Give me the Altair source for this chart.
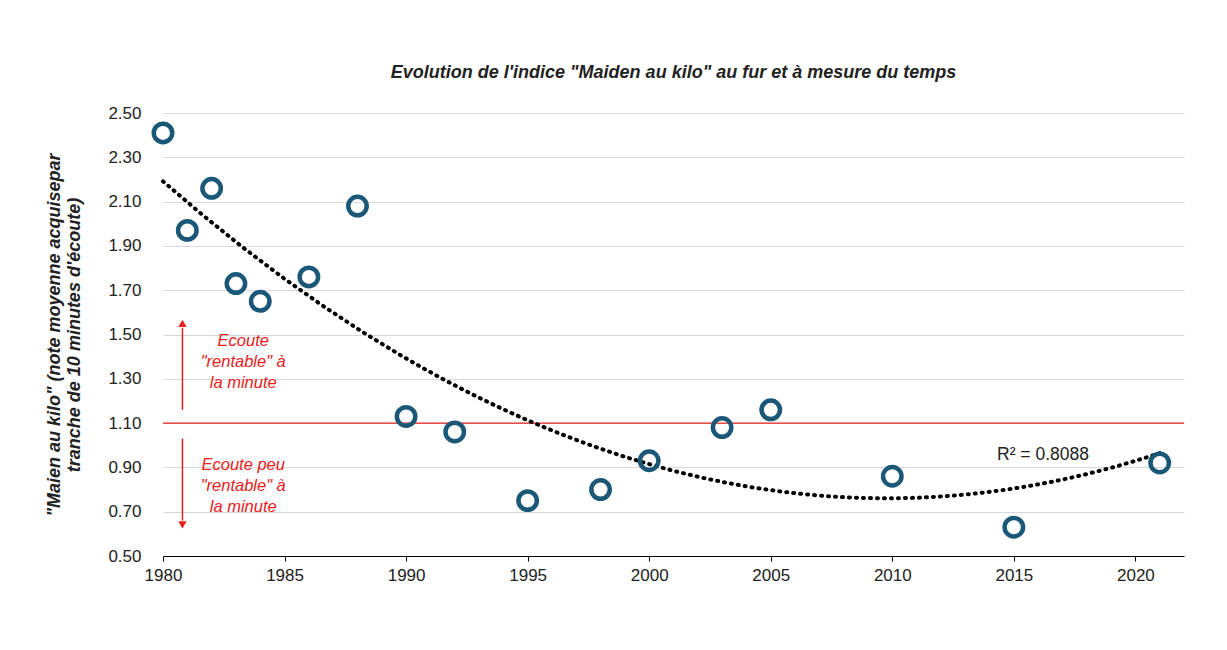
import altair as alt
import pandas as pd

years = [1980, 1981, 1982, 1983, 1984, 1986, 1988, 1990, 1992, 1995, 1998,
         2000, 2003, 2005, 2010, 2015, 2021]
indice = [2.41, 1.97, 2.16, 1.73, 1.65, 1.76, 2.08, 1.13, 1.06, 0.75, 0.80,
          0.93, 1.08, 1.16, 0.86, 0.63, 0.92]
seuil = 1.10

df = pd.DataFrame({"annee": years, "indice": indice})

FONT = "Liberation Sans"
RED = "#e8201c"

x = alt.X("annee:Q", scale=alt.Scale(domain=[1980, 2022], nice=False, zero=False),
          axis=alt.Axis(values=[1980, 1985, 1990, 1995, 2000, 2005, 2010, 2015, 2020],
                        format="d", grid=False, title=None, domainColor="black",
                        labelFlush=False, labelPadding=6,
                        tickColor="black", tickSize=5, labelFontSize=17, labelColor="#222"))
y = alt.Y("indice:Q", scale=alt.Scale(domain=[0.5, 2.5], nice=False, zero=False),
          axis=alt.Axis(values=[0.5, 0.7, 0.9, 1.1, 1.3, 1.5, 1.7, 1.9, 2.1, 2.3, 2.5],
                        format=".2f", gridColor="#d9d9d9", domain=False, ticks=False,
                        labelFontSize=17, labelPadding=22, labelColor="#222",
                        title=['"Maien au kilo" (note moyenne acquisepar',
                               "tranche de 10 minutes d'écoute)"],
                        titleFontSize=18, titleFontStyle="italic", titleFontWeight="bold",
                        titlePadding=24, titleColor="#222"))

base = alt.Chart(df)

points = base.mark_point(shape="circle", filled=False, size=340, strokeWidth=4.5,
                         opacity=1, color="#1b5878").encode(x=x, y=y)

trend = base.transform_regression("annee", "indice", method="poly", order=2,
                                  extent=[1980, 2021]).mark_line(
    color="black", strokeWidth=4, strokeDash=[1, 6], strokeCap="round"
).encode(x="annee:Q", y="indice:Q")

rule = alt.Chart(pd.DataFrame({"v": [seuil]})).mark_rule(color=RED, strokeWidth=1.2).encode(y="v:Q")

arrows = pd.DataFrame({"a": [1980.8, 1980.8], "y1": [1.16, 1.03], "y2": [1.53, 0.66]})
arrow_lines = alt.Chart(arrows).mark_rule(color=RED, strokeWidth=1.5).encode(
    x="a:Q", y="y1:Q", y2="y2:Q")
heads = pd.DataFrame({"a": [1980.8, 1980.8], "y": [1.55, 0.64],
                      "s": ["triangle-up", "triangle-down"]})
arrow_heads = alt.Chart(heads).mark_point(filled=True, color=RED, size=70, opacity=1).encode(
    x="a:Q", y="y:Q",
    shape=alt.Shape("s:N", scale=None, legend=None))

notes = pd.DataFrame({"a": [1983.3, 1983.3], "y": [1.47, 0.91],
                      "t": ['Ecoute\n"rentable" à\nla minute', 'Ecoute peu\n"rentable" à\nla minute']})
note_text = alt.Chart(notes).mark_text(color=RED, font=FONT, fontSize=16.5, fontStyle="italic",
                                       lineBreak="\n", lineHeight=21, baseline="middle").encode(
    x="a:Q", y="y:Q", text="t:N")

r2 = alt.Chart(pd.DataFrame({"a": [2016.2], "y": [0.955], "t": ["R² = 0.8088"]})).mark_text(
    font=FONT, fontSize=17.5, color="#222").encode(x="a:Q", y="y:Q", text="t:N")

chart = alt.layer(rule, trend, points, arrow_lines, arrow_heads, note_text, r2).properties(
    width=1021, height=443,
    padding={"left": 155, "top": 105, "right": 30, "bottom": 80},
    autosize=alt.AutoSizeParams(type="none"),
    title=alt.TitleParams("Evolution de l'indice \"Maiden au kilo\" au fur et à mesure du temps",
                          font=FONT, fontSize=18, fontStyle="italic", fontWeight="bold",
                          color="#222", offset=22, anchor="middle"),
).configure_view(stroke=None).configure_axis(labelFont=FONT, titleFont=FONT)

chart.save("out.html", embed_options={"renderer": "svg", "actions": False})
